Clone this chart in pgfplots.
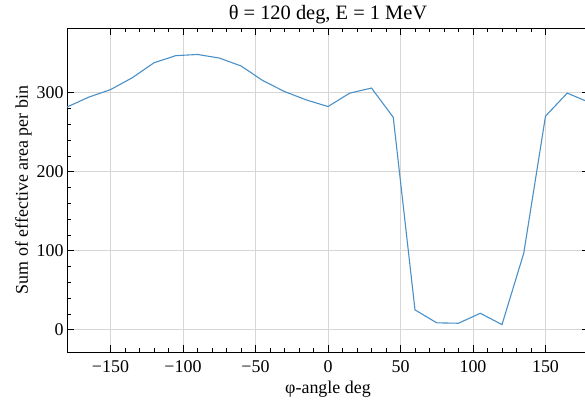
\documentclass[border=0pt]{standalone}
\usepackage{fontspec}
\setmainfont{Liberation Serif}
\usepackage{pgfplots}
\pgfplotsset{compat=1.18}
\definecolor{lineblue}{RGB}{74,144,200}
\definecolor{gridgray}{RGB}{214,214,214}

\begin{document}
\begin{tikzpicture}
\begin{axis}[
  scale only axis,
  width=522bp, height=324bp,
  xmin=-180, xmax=180, ymin=-28, ymax=382,
  tick label style={font=\fontsize{18}{21}\selectfont},
  label style={font=\fontsize{18}{21}\selectfont},
  title style={font=\fontsize{20.5}{24}\selectfont, yshift=-5bp},
  title={θ = 120 deg, E = 1 MeV},
  xlabel={φ-angle deg},
  ylabel={Sum of effective area per bin},
  xtick={-150,-100,-50,0,50,100,150},
  xticklabels={−150,−100,−50,0,50,100,150},
  ytick={0,100,200,300},
  yticklabels={0,100,200,300},
  minor x tick num=4,
  minor y tick num=4,
  tick align=inside,
  xtick pos=both, ytick pos=both,
  major tick length=7bp,
  minor tick length=4bp,
  tick style={black, line width=0.8bp},
  axis line style={black, line width=0.8bp},
  grid=major,
  major grid style={gridgray, line width=0.8bp},
  xticklabel style={yshift=-5bp},
  xlabel style={yshift=-2bp},
  ylabel style={yshift=-2bp},
]
\addplot[lineblue, line width=1.1bp, mark=none] coordinates {
(-180,282) (-165,294.5) (-150,304) (-135,319) (-120,338) (-105,347)
(-90,348.5) (-75,344) (-60,334) (-45,315.5) (-30,301.6) (-15,291)
(0,282.6) (15,299.6) (30,306) (45,269) (60,25.3) (75,8.9)
(90,8.4) (105,21) (120,6.7) (135,97) (150,270.5) (165,299.6) (180,288)
};
\coordinate (bl) at (rel axis cs:0,0);
\coordinate (tr) at (rel axis cs:1,1);
\end{axis}
\pgfresetboundingbox
\path[use as bounding box] ([shift={(-67bp,-48bp)}]bl) rectangle ([shift={(-4bp,28bp)}]tr);
\end{tikzpicture}
\end{document}
